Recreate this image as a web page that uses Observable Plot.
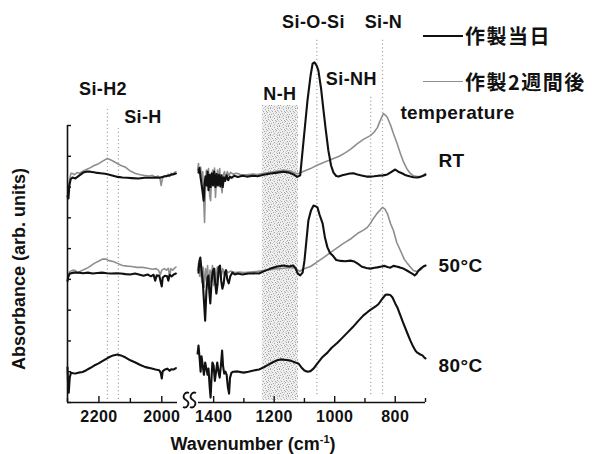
<!DOCTYPE html>
<html><head><meta charset="utf-8">
<script src="https://cdn.jsdelivr.net/npm/d3@7"></script>
<script src="https://cdn.jsdelivr.net/npm/@observablehq/plot@0.6"></script>
<style>
body{margin:0;background:#fff;}
#wrap{position:relative;width:592px;height:454px;overflow:hidden;font-family:"Liberation Sans",Arial,sans-serif;font-weight:bold;color:#111;}
#wrap svg{position:absolute;left:0;top:0;}
.abs{position:absolute;white-space:nowrap;}
.cjk{font-family:"Noto Sans CJK JP",sans-serif;font-weight:bold;font-size:20px;line-height:20px;letter-spacing:1.5px;}
</style></head><body><div id="wrap"></div>
<script>
// ---- data: [wavenumber (cm-1), absorbance (arb. units, stacked)] ----
const seriesNames = ["作製当日", "作製2週間後"];
const tempNames = ["RT", "50°C", "80°C"];

// left panel (2300–1950 cm-1)
const rtDayA = [[2300,6.70],[2297,6.63],[2294,7.05],[2290,7.25],[2284,7.31],[2275,7.28],[2262,7.38],[2250,7.47],[2240,7.50],[2228,7.50],[2211,7.47],[2195,7.45],[2180,7.43],[2170,7.41],[2155,7.37],[2140,7.33],[2125,7.31],[2110,7.30],[2095,7.29],[2074,7.28],[2055,7.30],[2035,7.30],[2020,7.31],[2008,7.30],[1998,7.33],[1990,7.35],[1979,7.37],[1970,7.40],[1962,7.42],[1955,7.44]];
const rt2wA = [[2299,6.80],[2294,7.20],[2289,7.45],[2284,7.44],[2278,7.40],[2270,7.47],[2262,7.45],[2250,7.52],[2233,7.60],[2215,7.70],[2201,7.76],[2187,7.85],[2173,7.93],[2160,7.87],[2147,7.80],[2130,7.70],[2115,7.64],[2100,7.52],[2084,7.44],[2068,7.40],[2052,7.37],[2040,7.36],[2030,7.38],[2020,7.32],[2012,7.36],[2006,7.30],[2002,7.05],[1998,7.28],[1992,7.36],[1986,7.33],[1980,7.42],[1975,7.35],[1970,7.45],[1965,7.40],[1960,7.47],[1955,7.50]];
const c50DayA = [[2300,3.95],[2297,4.10],[2292,4.19],[2280,4.22],[2265,4.22],[2250,4.20],[2235,4.22],[2220,4.19],[2205,4.21],[2190,4.22],[2175,4.20],[2160,4.19],[2145,4.20],[2130,4.19],[2115,4.17],[2100,4.16],[2085,4.19],[2070,4.15],[2058,4.12],[2045,4.16],[2035,4.10],[2026,4.15],[2021,3.96],[2016,4.13],[2008,4.12],[2003,3.90],[2000,3.77],[1997,4.06],[1990,4.12],[1983,4.10],[1979,3.96],[1975,4.15],[1968,4.10],[1962,4.16],[1955,4.19]];
const c50TwoA = [[2298,4.16],[2292,4.26],[2283,4.30],[2275,4.29],[2268,4.20],[2260,4.26],[2247,4.32],[2233,4.39],[2215,4.52],[2200,4.60],[2188,4.66],[2178,4.66],[2168,4.61],[2155,4.58],[2141,4.52],[2125,4.45],[2110,4.43],[2095,4.42],[2080,4.39],[2061,4.39],[2045,4.36],[2030,4.33],[2018,4.35],[2010,4.29],[2005,4.15],[2000,4.30],[1992,4.35],[1985,4.30],[1979,4.36],[1975,4.08],[1971,4.35],[1965,4.30],[1960,4.36],[1955,4.40]];
const c80DayA = [[2300,1.14],[2298,0.55],[2296,0.32],[2293,0.80],[2289,0.97],[2282,0.95],[2275,0.94],[2265,0.97],[2252,0.99],[2240,1.05],[2228,1.12],[2215,1.20],[2201,1.27],[2185,1.37],[2170,1.46],[2155,1.53],[2141,1.56],[2130,1.53],[2115,1.46],[2100,1.37],[2084,1.30],[2068,1.22],[2052,1.15],[2035,1.11],[2020,1.07],[2008,1.05],[2003,0.95],[2000,0.78],[1997,1.02],[1990,1.07],[1982,1.10],[1975,1.03],[1970,1.08],[1963,1.07],[1955,1.12]];

// right panel (1450–700 cm-1)
const rtDayB = [[1450,7.47],[1447,7.62],[1443,7.30],[1440,7.10],[1436,6.80],[1433,6.56],[1430,7.10],[1427,7.35],[1423,7.05],[1420,7.50],[1417,6.90],[1413,7.40],[1410,7.00],[1406,7.45],[1402,7.05],[1398,7.50],[1394,7.00],[1390,7.42],[1386,7.05],[1382,7.40],[1378,7.02],[1374,7.38],[1370,7.00],[1366,7.32],[1362,7.20],[1357,7.38],[1352,7.22],[1346,7.34],[1340,7.30],[1332,7.37],[1320,7.33],[1305,7.37],[1290,7.34],[1270,7.37],[1255,7.35],[1235,7.40],[1212,7.44],[1190,7.47],[1169,7.50],[1150,7.47],[1136,7.41],[1124,7.33],[1114,7.38],[1106,8.19],[1098,9.00],[1090,9.81],[1080,10.60],[1073,11.01],[1067,11.05],[1060,10.95],[1054,10.79],[1045,10.20],[1037,9.49],[1030,8.90],[1021,8.19],[1012,7.70],[1004,7.47],[995,7.36],[987,7.34],[975,7.38],[964,7.41],[950,7.44],[938,7.45],[925,7.41],[908,7.37],[895,7.34],[882,7.34],[870,7.35],[855,7.37],[840,7.38],[826,7.41],[815,7.48],[800,7.57],[790,7.50],[776,7.44],[765,7.38],[750,7.34],[740,7.32],[727,7.31],[717,7.33],[707,7.37],[700,7.40]];
const rt2wB = [[1453,7.55],[1450,7.76],[1447,7.45],[1443,7.65],[1440,7.20],[1436,7.50],[1433,6.60],[1430,5.85],[1427,7.00],[1424,7.55],[1420,7.05],[1417,7.60],[1413,6.70],[1410,6.56],[1407,7.30],[1403,7.55],[1400,7.05],[1397,7.62],[1394,6.66],[1391,7.20],[1387,7.55],[1384,7.10],[1380,7.60],[1376,7.10],[1372,6.82],[1368,7.40],[1364,7.50],[1360,7.25],[1355,7.50],[1350,7.38],[1344,7.48],[1336,7.42],[1325,7.45],[1311,7.41],[1290,7.40],[1270,7.42],[1255,7.41],[1235,7.45],[1212,7.48],[1190,7.52],[1169,7.55],[1146,7.52],[1130,7.45],[1120,7.43],[1106,7.50],[1080,7.60],[1060,7.70],[1037,7.80],[1020,7.86],[1004,7.93],[985,8.00],[964,8.12],[945,8.25],[925,8.41],[905,8.55],[882,8.67],[870,8.78],[859,8.93],[850,9.15],[839,9.39],[832,9.33],[826,9.26],[815,9.00],[806,8.74],[795,8.45],[783,8.09],[772,7.80],[760,7.57],[750,7.44],[740,7.37],[727,7.34],[717,7.34],[707,7.39],[700,7.44]];
const c50DayB = [[1450,4.22],[1447,4.60],[1444,4.71],[1440,4.30],[1436,3.95],[1432,3.30],[1428,2.66],[1424,3.60],[1420,4.06],[1417,4.12],[1414,3.55],[1411,3.22],[1407,3.90],[1403,4.26],[1399,4.35],[1395,3.90],[1391,3.54],[1387,3.85],[1383,4.40],[1379,4.45],[1375,3.95],[1371,3.70],[1367,3.85],[1363,4.20],[1359,4.30],[1355,4.00],[1350,3.87],[1345,4.10],[1338,4.22],[1330,4.16],[1320,4.19],[1305,4.16],[1285,4.19],[1265,4.20],[1250,4.19],[1235,4.26],[1212,4.35],[1190,4.42],[1169,4.45],[1150,4.42],[1138,4.45],[1130,4.38],[1122,4.19],[1114,4.13],[1106,4.22],[1100,4.60],[1094,5.20],[1087,5.91],[1078,6.25],[1070,6.40],[1064,6.38],[1057,6.34],[1050,6.10],[1040,5.82],[1032,5.35],[1024,5.04],[1015,4.85],[1007,4.78],[995,4.63],[980,4.60],[965,4.59],[948,4.61],[935,4.58],[925,4.52],[910,4.41],[895,4.37],[882,4.35],[868,4.38],[859,4.39],[845,4.42],[835,4.44],[826,4.40],[816,4.38],[806,4.44],[796,4.42],[785,4.39],[773,4.35],[760,4.28],[750,4.22],[740,4.16],[736,4.13],[730,4.18],[723,4.29],[717,4.34],[707,4.42],[700,4.45]];
const c50TwoB = [[1453,4.29],[1450,4.52],[1446,4.10],[1443,4.45],[1439,3.90],[1435,4.40],[1431,3.75],[1427,4.35],[1423,3.95],[1420,4.45],[1416,3.70],[1412,4.30],[1408,3.85],[1404,4.45],[1400,3.80],[1396,4.35],[1392,3.90],[1388,4.40],[1384,4.05],[1380,4.42],[1375,4.10],[1370,4.35],[1365,4.18],[1360,4.30],[1352,4.22],[1344,4.27],[1330,4.22],[1315,4.24],[1300,4.22],[1280,4.24],[1255,4.26],[1235,4.29],[1212,4.32],[1190,4.35],[1169,4.36],[1146,4.39],[1130,4.36],[1115,4.26],[1106,4.33],[1080,4.42],[1060,4.55],[1037,4.71],[1004,4.94],[971,5.17],[945,5.33],[925,5.49],[905,5.60],[892,5.69],[880,5.85],[872,5.98],[862,6.12],[855,6.20],[842,6.34],[834,6.28],[826,6.14],[815,5.80],[806,5.59],[795,5.20],[783,4.94],[770,4.65],[760,4.52],[748,4.38],[740,4.29],[730,4.26],[723,4.27],[717,4.30],[707,4.42],[700,4.45]];
const c80DayB = [[1453,1.59],[1450,1.85],[1446,1.40],[1443,1.00],[1440,1.50],[1436,1.20],[1432,0.90],[1428,1.30],[1424,1.10],[1420,0.90],[1417,1.10],[1413,0.50],[1410,0.16],[1407,0.80],[1404,1.30],[1400,1.20],[1396,0.70],[1392,1.00],[1388,1.30],[1384,1.00],[1380,0.81],[1376,1.20],[1372,1.69],[1369,1.20],[1365,0.94],[1361,1.00],[1357,0.90],[1353,0.50],[1349,0.29],[1346,0.80],[1341,0.97],[1335,1.00],[1321,1.01],[1301,0.97],[1285,1.00],[1268,1.04],[1250,1.07],[1235,1.14],[1220,1.22],[1206,1.30],[1190,1.37],[1179,1.40],[1160,1.38],[1146,1.36],[1130,1.30],[1120,1.27],[1110,1.14],[1100,1.04],[1090,1.00],[1080,1.02],[1070,1.10],[1057,1.27],[1040,1.48],[1024,1.62],[1010,1.78],[991,1.94],[975,2.10],[958,2.27],[940,2.45],[925,2.62],[905,2.83],[890,2.95],[882,3.01],[865,3.12],[855,3.20],[842,3.38],[832,3.50],[826,3.51],[816,3.49],[809,3.41],[800,3.22],[793,3.09],[783,2.83],[773,2.57],[760,2.25],[750,2.01],[740,1.80],[733,1.68],[727,1.62],[717,1.56],[710,1.53],[703,1.45],[700,1.43]];

// axes
const domainA = [2300, 1950];
const domainB = [1450, 700];
const majorA = [2200, 2000], minorA = [2300, 2100];
const majorB = [1400, 1200, 1000, 800], minorB = [1300, 1100, 900, 700];
const yTicks = [0,1,2,3,4,5,6,7,8,9];

// band assignments (wavenumber, label heights in absorbance units)
const peaksA = [{name:"Si-H2", wn:2173, bottom:0.1, top:9.58},{name:"Si-H", wn:2138, bottom:0.1, top:8.90}];
const peaksB = [{name:"Si-O-Si", wn:1059, bottom:0.25, top:11.86},{name:"Si-NH", wn:881, bottom:0.25, top:9.97},{name:"Si-N", wn:842, bottom:0.25, top:11.86}];
const labelsA = [{text:"Si-H2", wn:2187, abs:10.17},{text:"Si-H", wn:2060, abs:9.26}];
const labelsB = [{text:"N-H", wn:1181, abs:10.01},{text:"Si-O-Si", wn:1070, abs:12.35},{text:"Si-NH", wn:945, abs:10.49},{text:"Si-N", wn:839, abs:12.35}];
const headerB = [{text:"temperature", wn:783, abs:9.42}];
const tempLabels = [{text:"RT", wn:700, abs:7.86},{text:"50°C", wn:700, abs:4.45},{text:"80°C", wn:700, abs:1.20}];
const nhBand = [{from:1239, to:1120, bottom:0.07, top:9.65}];

function rows(arr, series, temp){ return arr.map(([wn, abs]) => ({wn, abs, series, temp, key: series + temp})); }
const dataA = [...rows(rtDayA, seriesNames[0], tempNames[0]), ...rows(rt2wA, seriesNames[1], tempNames[0]),
  ...rows(c50DayA, seriesNames[0], tempNames[1]), ...rows(c50TwoA, seriesNames[1], tempNames[1]),
  ...rows(c80DayA, seriesNames[0], tempNames[2])];
const dataB = [...rows(rtDayB, seriesNames[0], tempNames[0]), ...rows(rt2wB, seriesNames[1], tempNames[0]),
  ...rows(c50DayB, seriesNames[0], tempNames[1]), ...rows(c50TwoB, seriesNames[1], tempNames[1]),
  ...rows(c80DayB, seriesNames[0], tempNames[2])];

const W = 592, H = 454, MT = 125, MB = 52;
const font = {fontFamily: "Liberation Sans, Arial, sans-serif", fontWeight: "bold"};
const dotted = {stroke: "#a8a8a8", strokeWidth: 1.2, strokeDasharray: "1.2,2.6"};

function spectra(data){
  return [
    Plot.line(data.filter(d => d.series === seriesNames[1]), {x:"wn", y:"abs", z:"key", stroke:"#8e8e8e", strokeWidth:1.6}),
    Plot.line(data.filter(d => d.series === seriesNames[0]), {x:"wn", y:"abs", z:"key", stroke:"#111", strokeWidth:2.1})
  ];
}
function xAxes(major, minor){
  return [
    Plot.ruleY([0], {stroke:"#111", strokeWidth:1.6}),
    Plot.axisX({ticks: minor, tickSize: 4, dy: -4, tickFormat: () => "", label: null, strokeWidth: 1.4}),
    Plot.axisX({ticks: major, tickSize: 6, dy: -6, tickFormat: () => "", label: null, strokeWidth: 1.4}),
    Plot.axisX({ticks: major, tickSize: 0, tickPadding: 8, tickFormat: d => String(d), label: null, fontSize: 16, ...font, fill: "#111"})
  ];
}

const plotA = Plot.plot({
  width: W, height: H, marginTop: MT, marginBottom: MB, marginLeft: 67, marginRight: W - 177,
  x: {domain: domainA}, y: {domain: [0, 9]},
  style: {background: "transparent", overflow: "visible", fontFamily: font.fontFamily, fontWeight: "bold", fontSize: "16px"},
  marks: [
    Plot.ruleX(peaksA, {x:"wn", y1:"bottom", y2:"top", ...dotted}),
    ...spectra(dataA),
    Plot.ruleX([domainA[0]], {stroke:"#111", strokeWidth:1.6}),
    Plot.axisY({ticks: yTicks, tickSize: 4, dx: 4, tickFormat: () => "", label: null, strokeWidth: 1.4}),
    ...xAxes(majorA, minorA),
    Plot.text(labelsA, {x:"wn", y:"abs", text:"text", fontSize: 18, ...font, fill:"#111"})
  ]
});

const plotB = Plot.plot({
  width: W, height: H, marginTop: MT, marginBottom: MB, marginLeft: 198, marginRight: W - 425,
  x: {domain: domainB}, y: {domain: [0, 9], axis: null},
  style: {background: "transparent", overflow: "visible", fontFamily: font.fontFamily, fontWeight: "bold", fontSize: "16px"},
  marks: [
    Plot.rect(nhBand, {x1:"from", x2:"to", y1:"bottom", y2:"top", fill:"url(#stipple)"}),
    Plot.ruleX(peaksB, {x:"wn", y1:"bottom", y2:"top", ...dotted}),
    ...spectra(dataB),
    ...xAxes(majorB, minorB),
    Plot.text(labelsB, {x:"wn", y:"abs", text:"text", fontSize: 18, ...font, fill:"#111"}),
    Plot.text(headerB, {x:"wn", y:"abs", text:"text", textAnchor:"start", fontSize: 19, ...font, fill:"#111"}),
    Plot.text(tempLabels, {x:"wn", y:"abs", text:"text", textAnchor:"start", dx: 13, fontSize: 19, ...font, fill:"#111"})
  ]
});

// stipple texture for the N-H band (fixed irregular 9x9 tile)
{
  const defs = d3.select(plotB).insert("defs", ":first-child");
  const p = defs.append("pattern").attr("id", "stipple").attr("patternUnits", "userSpaceOnUse").attr("width", 9).attr("height", 9);
  p.append("rect").attr("width", 9).attr("height", 9).attr("fill", "#efefef");
  [[0,0],[4,1],[7,0],[2,3],[6,4],[8,6],[1,6],[4,7],[3,5],[7,2],[0,8],[5,3]].forEach(([x, y]) => p.append("rect").attr("x", x).attr("y", y).attr("width", 1).attr("height", 1).attr("fill", "#a6a6a6"));
  [[2,0],[5,5],[8,3],[1,2],[6,8],[3,8],[0,4],[7,7]].forEach(([x, y]) => p.append("rect").attr("x", x).attr("y", y).attr("width", 1).attr("height", 1).attr("fill", "#cacaca"));
}

const wrap = document.getElementById("wrap");
wrap.appendChild(plotA);
wrap.appendChild(plotB);
[plotA, plotB].forEach(s => { s.style.position = "absolute"; s.style.left = "0px"; s.style.top = "0px"; s.style.letterSpacing = "0.4px"; });

// axis-break symbol (two S strokes) just after the end of the left panel's x axis
{
  const bx = plotA.scale("x").apply(domainA[1]);
  const by = plotA.scale("y").apply(0) - 2;
  const g = d3.select(plotA).append("g").attr("fill", "none").attr("stroke", "#111").attr("stroke-width", 1.8);
  [9, 16].forEach(o => {
    const cx = bx + o;
    g.append("path").attr("d", `M${cx + 3},${by - 7} C${cx - 1},${by - 9} ${cx - 5},${by - 3} ${cx},${by} C${cx + 5},${by + 3} ${cx + 1},${by + 9} ${cx - 3},${by + 7}`);
  });
}

// legend
function addLegend(name, color, width, top){
  const ln = document.createElement("div");
  ln.className = "abs";
  Object.assign(ln.style, {left: "423px", top: (top + 9) + "px", width: "40px", height: "0px", borderTop: width + "px solid " + color});
  wrap.appendChild(ln);
  const tx = document.createElement("div");
  tx.className = "abs cjk";
  Object.assign(tx.style, {left: "465px", top: top + "px"});
  tx.textContent = name;
  wrap.appendChild(tx);
}
addLegend(seriesNames[0], "#111", 2, 26);
addLegend(seriesNames[1], "#8e8e8e", 1.6, 72);

// axis titles
const yt = document.createElement("div");
yt.className = "abs";
Object.assign(yt.style, {left: (19 - 140) + "px", top: (269 - 11) + "px", width: "280px", height: "22px", lineHeight: "22px", textAlign: "center", fontSize: "18px", transform: "rotate(-90deg)"});
yt.textContent = "Absorbance (arb. units)";
wrap.appendChild(yt);

const xt = document.createElement("div");
xt.className = "abs";
Object.assign(xt.style, {left: "0px", top: "434px", width: "506px", lineHeight: "20px", textAlign: "center", fontSize: "18px"});
xt.innerHTML = "Wavenumber (cm<sup style=\"font-size:11px;vertical-align:7px;line-height:0\">-1</sup>)";
wrap.appendChild(xt);
</script>
</body></html>
